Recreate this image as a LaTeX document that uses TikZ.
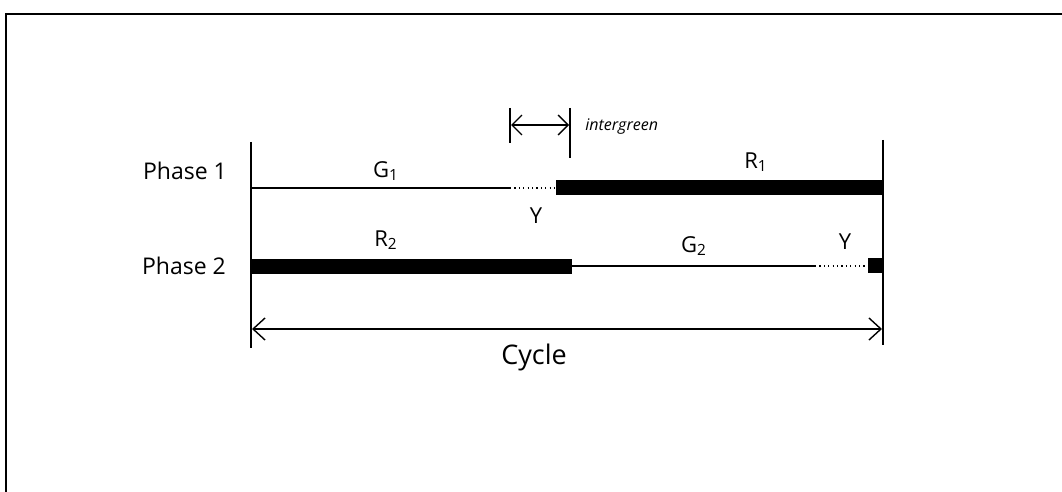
\documentclass[tikz,border=0pt]{standalone}
\usepackage{fontspec}
\setmainfont{Open Sans}
\usetikzlibrary{arrows.meta}
\begin{document}
\begin{tikzpicture}[x=0.5pt,y=-0.5pt,
  frame/.style={line width=0.9pt},
  tick/.style={line width=1pt},
  thinline/.style={line width=0.6pt},
  dotline/.style={line width=0.6pt,dash pattern=on 0.6pt off 1.6pt},
  bar/.style={line width=7.5pt},
  dim/.style={line width=0.7pt,{Straight Barb[length=6pt,width=11pt,line width=0.7pt]}-{Straight Barb[length=6pt,width=11pt,line width=0.7pt]}},
  smalldim/.style={line width=0.7pt,{Straight Barb[length=5pt,width=10pt,line width=0.7pt]}-{Straight Barb[length=5pt,width=10pt,line width=0.7pt]}},
  lbl/.style={inner sep=0pt,font=\fontsize{11pt}{13pt}\selectfont},
  phase/.style={inner sep=0pt,font=\fontsize{11.5pt}{13pt}\selectfont}]
\useasboundingbox (0,0) rectangle (1062,492);
% frame
\coordinate (ftr) at (1062,14);
\coordinate (ftl) at (6,14);
\coordinate (fbl) at (6,492);
\draw[frame] (ftr) -- (ftl) -- (fbl);
% vertical boundaries
\coordinate (lt) at (251,142);
\coordinate (lb) at (251,348);
\coordinate (rt) at (883,140);
\coordinate (rb) at (883,345);
\draw[tick] (lt) -- (lb);
\draw[tick] (rt) -- (rb);
% phase 1
\coordinate (p1a) at (251,188);
\coordinate (p1b) at (510,188);
\coordinate (p1c) at (556,188);
\coordinate (p1d) at (883,187.5);
\draw[thinline] (p1a) -- (p1b);
\draw[dotline] (p1b) -- (p1c);
\draw[bar] (p1c |- p1d) -- (p1d);
% phase 2
\coordinate (p2a) at (251,267);
\coordinate (p2b) at (572,267);
\coordinate (p2c) at (815,266);
\coordinate (p2d) at (866,266);
\coordinate (p2e) at (868,266);
\coordinate (p2f) at (883,266);
\draw[bar] (p2a) -- (p2b);
\draw[thinline] (p2b |- p2c) -- (p2c);
\draw[dotline] (p2c) -- (p2d);
\draw[bar] (p2e) -- (p2f);
% intergreen marker
\coordinate (ia) at (510,108);
\coordinate (ib) at (510,143);
\coordinate (ic) at (570,108);
\coordinate (id) at (570,158);
\draw[tick] (ia) -- (ib);
\draw[tick] (ic) -- (id);
\coordinate (ial) at (511,125);
\coordinate (iar) at (569,125);
\draw[smalldim] (ial) -- (iar);
\node[inner sep=0pt,anchor=west,font=\fontsize{8pt}{10pt}\selectfont\itshape] (intergreen) at (585,127) {intergreen};
% cycle
\coordinate (cl) at (252,329);
\coordinate (cr) at (882,329);
\draw[dim] (cl) -- (cr);
\node[inner sep=0pt,font=\fontsize{13.5pt}{15pt}\selectfont] (cycle) at (534,357) {Cycle};
% labels
\node[phase] (ph1) at (185,171) {Phase 1};
\node[phase] (ph2) at (184,266) {Phase 2};
\node[lbl] (g1) at (386,171) {G\textsubscript{1}};
\node[lbl] (r1) at (756,162) {R\textsubscript{1}};
\node[lbl] (y1) at (536,216) {Y};
\node[lbl] (r2) at (386,240) {R\textsubscript{2}};
\node[lbl] (g2) at (694,246) {G\textsubscript{2}};
\node[lbl] (y2) at (845,242) {Y};
\end{tikzpicture}
\end{document}
